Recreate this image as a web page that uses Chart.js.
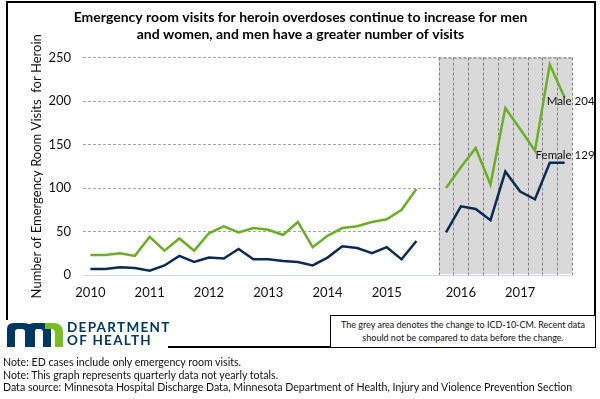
<!DOCTYPE html>
<html>
<head>
<meta charset="utf-8">
<script src="https://cdn.jsdelivr.net/npm/chart.js@4/dist/chart.umd.min.js"></script>
<style>
  body { margin: 0; background: #fff; }
  #wrap { position: relative; width: 600px; height: 399px; overflow: hidden; font-family: Lato, sans-serif; }
  #c { position: absolute; left: 0; top: 0; }
  #frame { position: absolute; left: 6px; top: 1px; width: 590px; height: 347px; box-sizing: border-box; border: 2px solid #000; pointer-events: none; }
  #logoBg { position: absolute; left: 0; top: 320px; width: 168px; height: 30px; background: #fff; }
  #logo { position: absolute; left: 6px; top: 322px; }
  #dept { position: absolute; left: 67px; top: 321px; color: #003865; font-weight: bold; font-size: 13.5px; line-height: 13px; letter-spacing: 1.3px; }
  #icd { position: absolute; left: 330px; top: 315px; width: 266px; height: 33px; box-sizing: border-box; border: 1.5px solid #000; background: #fff; font-size: 9px; line-height: 12.5px; text-align: center; padding-top: 3px; color: #111; }
  #notes { position: absolute; left: 3px; top: 356px; font-size: 10.6px; line-height: 12.7px; color: #111; }
</style>
</head>
<body>
<div id="wrap">
  <canvas id="c" width="600" height="399"></canvas>
  <div id="frame"></div>
  <div id="logoBg"></div>
  <svg id="logo" width="60" height="26" viewBox="0 0 60 26">
    <path fill="#003865" d="M1 25V7Q1 1 8 1H17Q27 1 27 8V25H19V10Q19 7 16 7H12Q9 7 9 10V25Z"/>
    <path fill="#003865" d="M21 25V8Q21 1 28 1H37Q45 1 45 8V25H37V10Q37 7 34 7H31Q29 7 29 10V25Z"/>
    <path fill="#78be20" d="M39 1H47Q57 1 57 10V25H49V11Q49 7 45 7H39Z"/>
  </svg>
  <div id="dept">DEPARTMENT<br>OF HEALTH</div>
  <div id="icd">The grey area denotes the change to ICD-10-CM. Recent data<br>should not be compared to data before the change.</div>
  <div id="notes">Note: ED cases include only emergency room visits.<br>Note: This graph represents quarterly data not yearly totals.<br>Data source: Minnesota Hospital Discharge Data, Minnesota Department of Health, Injury and Violence Prevention Section</div>
</div>
<script>
// quarterly, 2010 Q1 .. 2015 Q3, one empty slot, then 2015 Q4 .. 2017 Q4
const tickLabels = ['2010', '', '', '', '2011', '', '', '', '2012', '', '', '', '2013', '', '', '',
  '2014', '', '', '', '2015', '', '', '', '', '2016', '', '', '', '2017', '', '', ''];
const male = [23, 23, 25, 22, 44, 28, 42, 28, 48, 56, 49, 54, 52, 46, 61, 32, 45, 54, 56, 61, 64, 75, 99,
  null, 100, 124, 146, 104, 192, 168, 143, 242, 204];
const female = [7, 7, 9, 8, 5, 11, 22, 15, 20, 19, 30, 18, 18, 16, 15, 11, 20, 33, 31, 25, 32, 18, 39,
  null, 49, 79, 76, 63, 119, 96, 87, 129, 129];
const greyStart = 24; // first ICD-10-CM quarter
const endLabels = ['Male 204', 'Female 129'];

const greyArea = {
  id: 'greyArea',
  beforeDatasetsDraw(chart) {
    const { ctx, chartArea: a, scales: { x } } = chart;
    const l = x.getPixelForValue(greyStart - 0.5);
    const r = x.getPixelForValue(tickLabels.length - 0.5);
    ctx.save();
    ctx.fillStyle = '#d9d9d9';
    ctx.fillRect(l, a.top, r - l, a.bottom - a.top - 1);
    ctx.strokeStyle = '#808080';
    ctx.lineWidth = 1;
    ctx.setLineDash([3, 2]);
    for (let i = greyStart; i <= tickLabels.length; i++) {
      const px = Math.round(x.getPixelForValue(i - 0.5)) + 0.5;
      ctx.beginPath();
      ctx.moveTo(px, a.top);
      ctx.lineTo(px, a.bottom);
      ctx.stroke();
    }
    ctx.beginPath();
    ctx.moveTo(l, a.top + 0.5);
    ctx.lineTo(r, a.top + 0.5);
    ctx.stroke();
    ctx.restore();
  },
  afterDatasetsDraw(chart) {
    const { ctx } = chart;
    ctx.save();
    ctx.font = '11.5px Lato';
    ctx.fillStyle = '#111';
    ctx.textAlign = 'right';
    ctx.textBaseline = 'middle';
    const pm = chart.getDatasetMeta(0).data[male.length - 1];
    const pf = chart.getDatasetMeta(1).data[female.length - 1];
    ctx.fillText(endLabels[0], pm.x + 30, pm.y + 4);
    ctx.fillText(endLabels[1], pf.x + 30, pf.y - 8);
    ctx.restore();
  }
};

new Chart(document.getElementById('c'), {
  type: 'line',
  data: {
    labels: tickLabels,
    datasets: [
      { label: 'Male', data: male, borderColor: '#6ab023', borderWidth: 2.5, pointRadius: 0, tension: 0, spanGaps: false },
      { label: 'Female', data: female, borderColor: '#0b2a54', borderWidth: 2.5, pointRadius: 0, tension: 0, spanGaps: false }
    ]
  },
  options: {
    responsive: false,
    animation: false,
    layout: { padding: { left: 29, right: 28, top: 9, bottom: 98 } },
    plugins: {
      legend: { display: false },
      tooltip: { enabled: false },
      title: {
        display: true,
        text: ['Emergency room visits for heroin overdoses continue to increase for men',
          'and women, and men have a greater number of visits'],
        font: { family: 'Lato', size: 14, weight: 'bold' },
        color: '#000',
        lineHeight: 1.32,
        padding: { top: 0, bottom: 15 }
      }
    },
    scales: {
      x: {
        offset: true,
        grid: { display: false, drawTicks: false, offset: true },
        border: { display: true, color: '#c5dbef', width: 1 },
        ticks: { autoSkip: false, maxRotation: 0, padding: 10, color: '#111', font: { family: 'Lato', size: 13 } },
        afterFit(s) { s.height = 26; }
      },
      y: {
        min: 0,
        max: 250,
        ticks: { stepSize: 50, padding: 12, color: '#111', font: { family: 'Lato', size: 13 } },
        grid: { drawTicks: false, color: (c) => c.tick.value === 0 ? 'rgba(0,0,0,0)' : '#a6a6a6' },
        border: { display: false, dash: [3, 2] },
        title: {
          display: true,
          text: 'Number of Emergency Room Visits  for Heroin',
          color: '#111',
          font: { family: 'Lato', size: 13 },
          padding: { top: 0, bottom: 0 }
        },
        afterFit(s) { s.width = 54; }
      }
    }
  },
  plugins: [greyArea]
});
</script>
</body>
</html>
